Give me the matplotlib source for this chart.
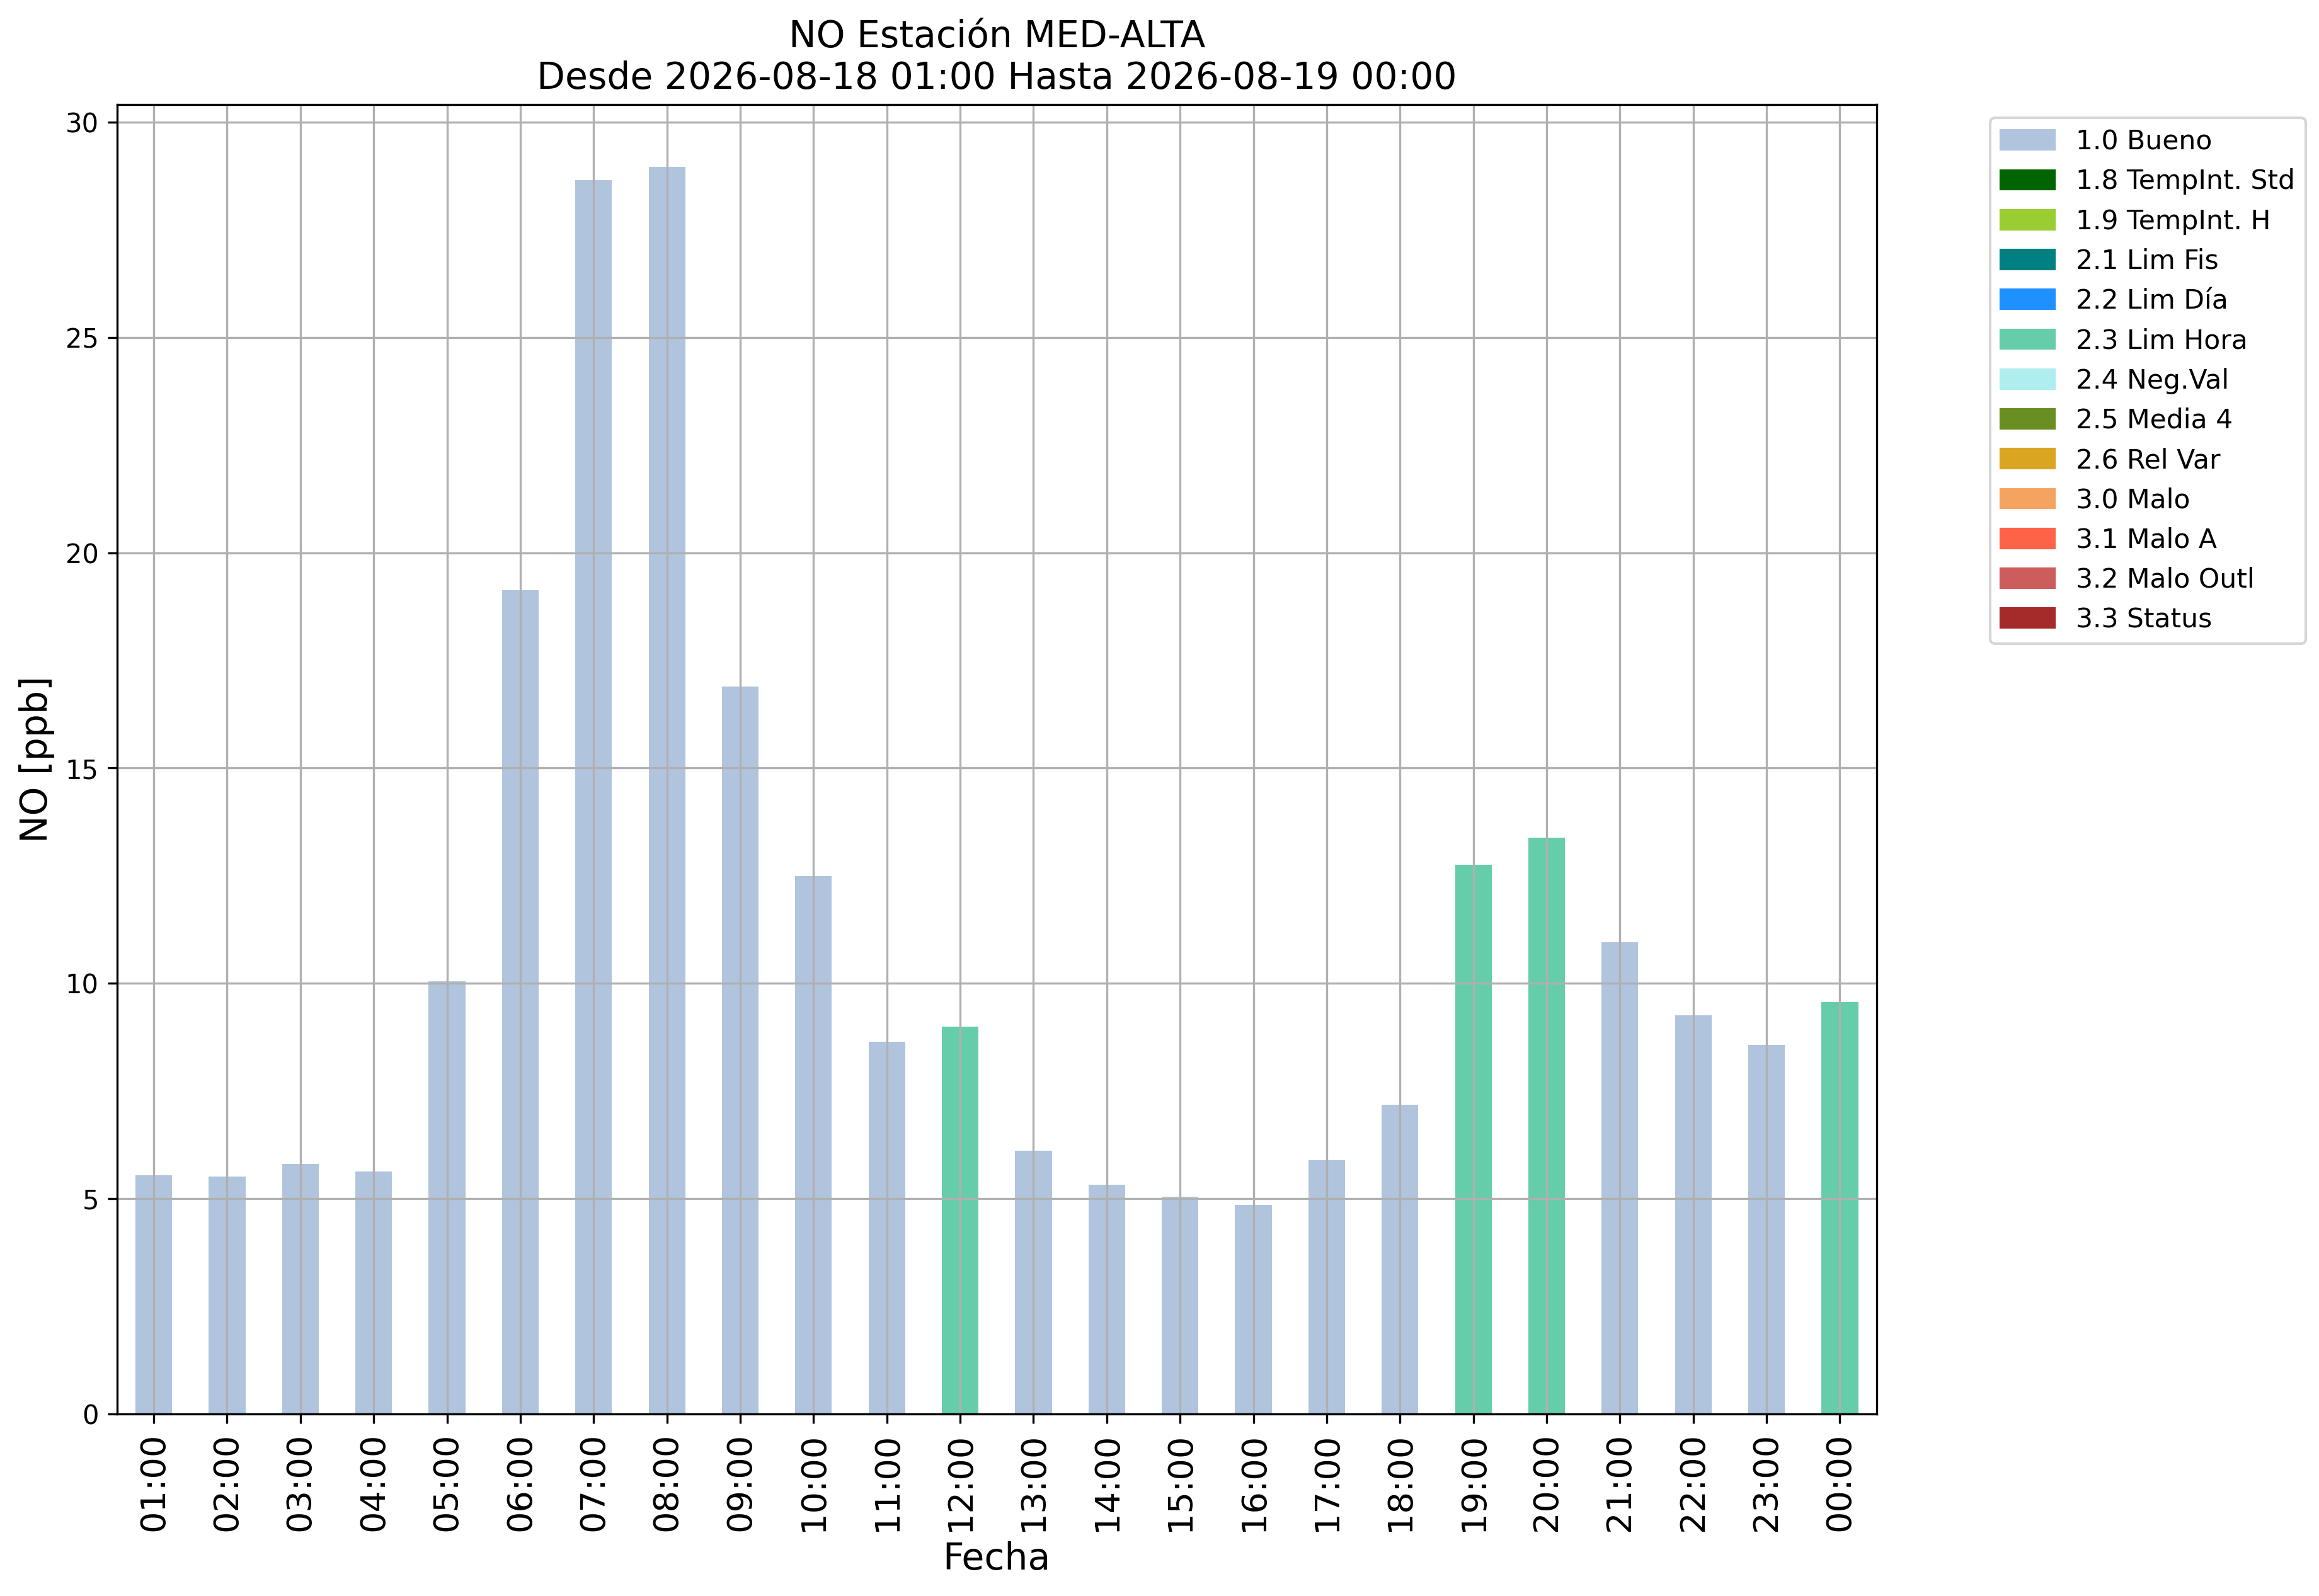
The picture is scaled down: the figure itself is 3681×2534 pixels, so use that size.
import numpy as np
import matplotlib
matplotlib.use("Agg")
import matplotlib.pyplot as plt
import matplotlib.patches as mpatches

# hourly NO values and the quality flag of each hour
horas = ['01:00', '02:00', '03:00', '04:00', '05:00', '06:00', '07:00', '08:00',
         '09:00', '10:00', '11:00', '12:00', '13:00', '14:00', '15:00', '16:00',
         '17:00', '18:00', '19:00', '20:00', '21:00', '22:00', '23:00', '00:00']
valores = [5.55, 5.52, 5.81, 5.63, 10.05, 19.13, 28.65, 28.96,
           16.89, 12.49, 8.65, 9.0, 6.12, 5.33, 5.05, 4.85,
           5.90, 7.18, 12.76, 13.38, 10.96, 9.26, 8.57, 9.56]
banderas = ['1.0 Bueno'] * 11 + ['2.3 Lim Hora'] + ['1.0 Bueno'] * 6 + \
           ['2.3 Lim Hora', '2.3 Lim Hora'] + ['1.0 Bueno'] * 3 + ['2.3 Lim Hora']

etiquetas = ['1.0 Bueno', '1.8 TempInt. Std', '1.9 TempInt. H', '2.1 Lim Fis',
             '2.2 Lim Día', '2.3 Lim Hora', '2.4 Neg.Val', '2.5 Media 4',
             '2.6 Rel Var', '3.0 Malo', '3.1 Malo A', '3.2 Malo Outl', '3.3 Status']
colores = ['lightsteelblue', 'darkgreen', 'yellowgreen', 'teal', 'dodgerblue',
           'mediumaquamarine', 'paleturquoise', 'olivedrab', 'goldenrod',
           'sandybrown', 'tomato', 'indianred', 'brown']
color_de = dict(zip(etiquetas, colores))

fig, ax = plt.subplots(figsize=(12.273, 8.447), dpi=300)
fig.subplots_adjust(left=0.0505, right=0.809, top=0.9345, bottom=0.114)

x = np.arange(len(horas))
ax.bar(x, valores, width=0.5, color=[color_de[b] for b in banderas])
ax.set_xlim(-0.5, len(horas) - 0.5)
ax.set_xticks(x)
ax.set_xticklabels(horas, rotation=90, fontsize=13)
ax.tick_params(axis='y', labelsize=10)
ax.grid(True)

ax.set_title('NO Estación MED-ALTA\nDesde 2026-08-18 01:00 Hasta 2026-08-19 00:00', fontsize=14)
ax.set_xlabel('Fecha', fontsize=14)
ax.set_ylabel('NO [ppb]', fontsize=14)

handles = [mpatches.Patch(color=c, label=l) for l, c in zip(etiquetas, colores)]
ax.legend(handles=handles, bbox_to_anchor=(1.057, 1), loc='upper left', fontsize=10.2)

fig.savefig('out.png', dpi=300)
